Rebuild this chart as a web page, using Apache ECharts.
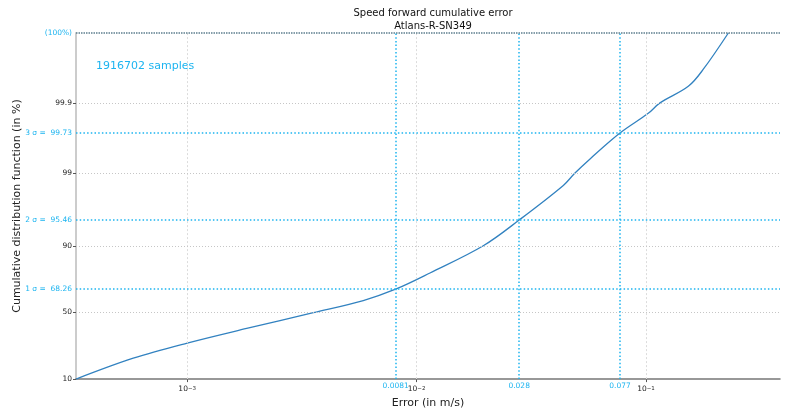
<!DOCTYPE html>
<html>
<head>
<meta charset="utf-8">
<script src="https://cdn.jsdelivr.net/npm/echarts@6/dist/echarts.min.js"></script>
<style>html,body{margin:0;padding:0;background:#fff}#c{width:786px;height:414px}</style>
</head>
<body>
<div id="c"></div>
<script>
// ---- data ----
const errors = [0.0003276, 0.000582, 0.001, 0.001817, 0.003548, 0.005855, 0.0081, 0.01144, 0.01953, 0.028, 0.04361, 0.04903, 0.05703, 0.077, 0.1023, 0.1151, 0.1529, 0.1778, 0.2285];
const cdfPercent = [10, 18.1, 26.7, 37.1, 49.8, 59.7, 68.26, 78.6, 90, 95.46, 98.5, 99.0, 99.37, 99.73, 99.859, 99.9, 99.942, 99.967, 99.99];
const sigmaNames = ['1 σ', '2 σ', '3 σ'];
const sigmaPercent = [68.26, 95.46, 99.73];
const sigmaError = [0.0081, 0.028, 0.077];
const yTickPercent = [10, 50, 90, 99, 99.9];
const xTickExp = [-3, -2, -1];
const xRange = [0.0003276, 0.3838];
const xMaxLabel = '0.38';
const yRange = [10, 99.99];
const yTopLabel = '(100%)';
const sampleText = '1916702 samples';
const titleLines = ['Speed forward cumulative error', 'Atlans-R-SN349'];

// ---- scales ----
const logit = p => Math.log((p / 100) / (1 - p / 100));
const lg = v => Math.log10(v);
const CYAN = '#1cb4f0';
const FONT = 'DejaVu Sans';

const chart = echarts.init(document.getElementById('c'), null, {renderer: 'canvas'});

const mlData = [];
xTickExp.forEach(e => mlData.push({xAxis: e, lineStyle: {color: '#dcdcdc', type: [2, 2], width: 1}, label: {show: false}}));
yTickPercent.slice(1).forEach(p => mlData.push({yAxis: logit(p), lineStyle: {color: '#c6c6c6', type: [1, 2], width: 1}, label: {show: false}}));
sigmaPercent.forEach((p, i) => mlData.push({
  yAxis: logit(p),
  lineStyle: {color: CYAN, type: [1.5, 2.2], width: 1.5},
  label: {show: true, position: 'start', distance: 4, formatter: sigmaNames[i] + ' =  ' + p.toFixed(2), color: CYAN, fontSize: 7.5, fontFamily: FONT}
}));
sigmaError.forEach(e => mlData.push({
  xAxis: lg(e),
  lineStyle: {color: CYAN, type: [1.5, 2.2], width: 1.5},
  label: {show: true, position: 'start', distance: 3, formatter: String(e), color: CYAN, fontSize: 7.5, fontFamily: FONT}
}));
mlData.push({
  yAxis: logit(yRange[1]),
  lineStyle: {color: '#5f7f8f', type: [1.5, 1], width: 1.5},
  label: {show: true, position: 'start', distance: 4, formatter: yTopLabel, color: CYAN, fontSize: 7.5, fontFamily: FONT}
});
mlData.push({
  xAxis: lg(xRange[1]),
  lineStyle: {color: '#4a5f6a', type: 'solid', width: 1.2},
  label: {show: true, position: 'start', distance: 3, formatter: xMaxLabel, color: CYAN, fontSize: 7.5, fontFamily: FONT}
});

const option = {
  animation: false,
  textStyle: {fontFamily: FONT},
  title: {
    text: titleLines.join('\n'),
    left: 428, top: 2, textAlign: 'center',
    textStyle: {fontSize: 10, fontWeight: 'normal', color: '#111', lineHeight: 13, fontFamily: FONT}
  },
  graphic: [{
    type: 'text', left: 96, top: 61,
    style: {text: sampleText, fill: CYAN, fontSize: 11, fontFamily: FONT}
  }],
  grid: {left: 76, right: 6, top: 33, bottom: 31, containLabel: false},
  xAxis: {
    type: 'value',
    min: lg(xRange[0]), max: lg(xRange[1]),
    name: 'Error (in m/s)', nameLocation: 'middle', nameGap: 18,
    nameTextStyle: {fontSize: 11, color: '#222', fontFamily: FONT},
    axisLine: {show: true, onZero: false, lineStyle: {color: '#777', width: 1.5}},
    axisTick: {show: true, customValues: xTickExp, length: 3, lineStyle: {color: '#555'}},
    axisLabel: {
      customValues: xTickExp, margin: 6, color: '#222',
      formatter: v => '{b|10}{s|\u2212' + Math.abs(Math.round(v)) + '}',
      rich: {b: {fontSize: 7.5, color: '#222', fontFamily: FONT}, s: {fontSize: 5.5, color: '#222', verticalAlign: 'top', fontFamily: FONT}}
    },
    splitLine: {show: false}
  },
  yAxis: {
    type: 'value',
    min: logit(yRange[0]), max: logit(yRange[1]),
    name: 'Cumulative distribution function (in %)', nameLocation: 'middle', nameGap: 53, nameRotate: 90,
    nameTextStyle: {fontSize: 11, color: '#222', fontFamily: FONT},
    axisLine: {show: true, lineStyle: {color: '#cccccc', width: 2}},
    axisTick: {show: true, customValues: yTickPercent.map(logit), length: 3, lineStyle: {color: '#555'}},
    axisLabel: {
      customValues: yTickPercent.map(logit), margin: 4, color: '#222', fontSize: 7.5,
      formatter: v => {
        let best = yTickPercent[0];
        yTickPercent.forEach(t => { if (Math.abs(logit(t) - v) < Math.abs(logit(best) - v)) best = t; });
        return String(best);
      }
    },
    splitLine: {show: false}
  },
  series: [{
    type: 'line',
    data: errors.map((e, i) => [lg(e), logit(cdfPercent[i])]),
    showSymbol: false,
    smooth: 0.35,
    clip: true,
    lineStyle: {color: '#3282c0', width: 1.3},
    markLine: {silent: true, symbol: 'none', animation: false, precision: 6, data: mlData},
    z: 3
  }]
};
chart.setOption(option);
</script>
</body>
</html>
